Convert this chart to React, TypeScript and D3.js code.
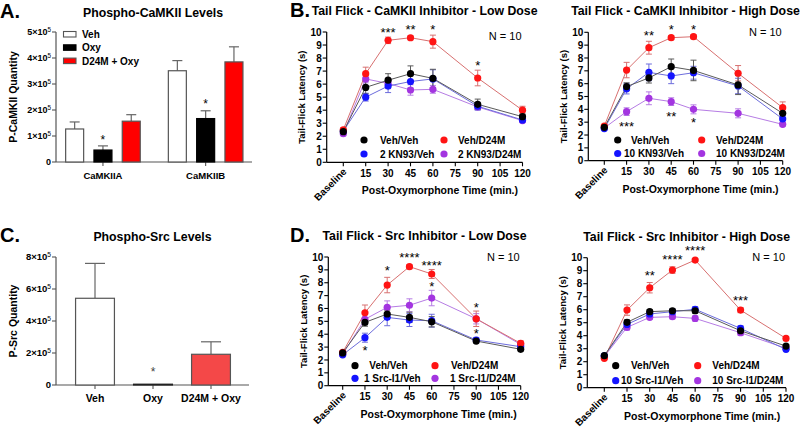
import React from "react";
import * as d3 from "d3";

const FONT = "'Liberation Sans', Arial, Helvetica, sans-serif";

// ---------------- Panel A data ----------------
const camkCategories = ["CaMKIIA", "CaMKIIB"];
const camkGroups = ["Veh", "Oxy", "D24M + Oxy"];
const camkVehMean = [127000, 351000];
const camkVehSem = [27000, 39000];
const camkOxyMean = [46000, 167000];
const camkOxySem = [16000, 30000];
const camkD24Mean = [157000, 385000];
const camkD24Sem = [25000, 58000];
const camkTicks = [0, 1, 2, 3, 4, 5];
const camkStars: [string, string, number][] = [
  ["CaMKIIA", "Oxy", 96000],
  ["CaMKIIB", "Oxy", 236000],
];

// ---------------- Panel C data ----------------
const srcCategories = ["Veh", "Oxy", "D24M + Oxy"];
const srcMean = [542000, 5000, 192000];
const srcSem = [218000, 0, 78000];
const srcTicks = [0, 2, 4, 6, 8];
const srcStars: [string, number][] = [["Oxy", 100000]];

// ---------------- Tail flick data ----------------
const times = [0, 15, 30, 45, 60, 90, 120];
const xTicks = [0, 15, 30, 45, 60, 75, 90, 105, 120];
const yTicks = [0, 1, 2, 3, 4, 5, 6, 7, 8, 9, 10];

// B - low dose
const bLowVehVeh = [2.35, 5.75, 6.3, 6.8, 6.44, 4.45, 3.5];
const bLowVehVehSem = [0.15, 0.5, 0.5, 0.6, 0.7, 0.4, 0.2];
const bLowVehD24M = [2.5, 6.8, 9.36, 9.56, 9.26, 6.47, 4.0];
const bLowVehD24MSem = [0.15, 0.5, 0.25, 0.15, 0.5, 0.6, 0.3];
const bLowInhVeh = [2.4, 5.0, 5.85, 6.2, 6.4, 4.3, 3.25];
const bLowInhVehSem = [0.1, 0.3, 0.5, 0.5, 0.7, 0.3, 0.15];
const bLowInhD24M = [2.2, 6.4, 6.05, 5.55, 5.6, 4.25, 3.2];
const bLowInhD24MSem = [0.1, 0.3, 0.4, 0.4, 0.3, 0.2, 0.15];
const bLowStars: [number, number, string][] = [
  [30, 10.21, "***"], [45, 10.41, "**"], [60, 10.41, "*"], [90, 7.68, "*"],
];

// B - high dose
const bHighVehVeh = [2.6, 5.77, 6.45, 7.32, 7.03, 5.9, 3.69];
const bHighVehVehSem = [0.1, 0.3, 0.4, 0.6, 0.8, 0.75, 0.35];
const bHighVehD24M = [2.7, 7.06, 8.8, 9.58, 9.66, 6.81, 4.13];
const bHighVehD24MSem = [0.1, 0.6, 0.5, 0.15, 0.15, 0.6, 0.45];
const bHighInhVeh = [2.5, 5.6, 6.88, 6.6, 6.85, 5.82, 3.25];
const bHighInhVehSem = [0.1, 0.4, 0.65, 0.6, 0.5, 0.6, 0.3];
const bHighInhD24M = [2.55, 3.82, 4.86, 4.6, 4.0, 3.69, 2.83];
const bHighInhD24MSem = [0.1, 0.3, 0.5, 0.3, 0.35, 0.35, 0.15];
const bHighStars: [number, number, string][] = [
  [30, 10.0, "**"], [45, 10.41, "*"], [60, 10.41, "*"],
  [15, 2.91, "***"], [45, 3.69, "**"], [60, 3.17, "*"],
];

// D - low dose
const dLowVehVeh = [2.55, 4.92, 5.57, 5.31, 4.97, 3.47, 2.83];
const dLowVehVehSem = [0.1, 0.3, 0.3, 0.4, 0.4, 0.15, 0.1];
const dLowVehD24M = [2.6, 5.67, 7.82, 9.25, 8.68, 5.2, 3.29];
const dLowVehD24MSem = [0.1, 0.6, 0.6, 0.15, 0.35, 0.6, 0.2];
const dLowInhVeh = [2.4, 3.73, 5.31, 5.1, 5.05, 3.55, 3.03];
const dLowInhVehSem = [0.1, 0.35, 0.65, 0.5, 0.5, 0.2, 0.1];
const dLowInhD24M = [2.45, 5.16, 6.09, 6.25, 6.81, 5.2, 3.2];
const dLowInhD24MSem = [0.1, 0.4, 0.5, 0.5, 0.6, 0.4, 0.15];
const dLowStars: [number, number, string][] = [
  [30, 9.15, "*"], [45, 10.16, "****"], [60, 9.56, "****"], [60, 7.9, "*"],
  [90, 6.34, "*"], [90, 4.27, "*"], [15, 2.98, "*"],
];

// D - high dose
const dHighVehVeh = [2.46, 5.03, 5.85, 5.92, 5.92, 4.38, 3.2];
const dHighVehVehSem = [0.1, 0.2, 0.15, 0.15, 0.2, 0.2, 0.1];
const dHighVehD24M = [2.26, 5.97, 7.69, 9.05, 9.82, 5.97, 3.79];
const dHighVehD24MSem = [0.1, 0.4, 0.4, 0.25, 0.1, 0.2, 0.1];
const dHighInhVeh = [2.45, 4.87, 5.67, 5.85, 6.03, 4.56, 2.95];
const dHighInhVehSem = [0.1, 0.2, 0.2, 0.2, 0.2, 0.2, 0.1];
const dHighInhD24M = [2.4, 4.64, 5.41, 5.46, 5.33, 4.23, 3.03];
const dHighInhD24MSem = [0.1, 0.2, 0.15, 0.15, 0.2, 0.2, 0.1];
const dHighStars: [number, number, string][] = [
  [30, 8.88, "**"], [45, 10.08, "****"], [60, 10.77, "****"], [90, 6.95, "***"],
];

const markerColors = ["#000000", "#ff1414", "#1414ff", "#a335e0"];
const lineColors = ["#5a5a5a", "#d87070", "#6c6cdc", "#b67ce4"];

type Series = { label: string; mean: number[]; sem: number[]; idx: number };

function makeSeries(labels: string[], means: number[][], sems: number[][]): Series[] {
  return labels.map((label, i) => ({ label, mean: means[i], sem: sems[i], idx: i }));
}

type LegendCfg = { rows: number[]; dotX: number[]; textX: number[][] };

type LineProps = {
  x0: number; xs: number; xe: number; yb: number; yt: number;
  title: string; series: Series[]; stars: [number, number, string][];
  legend: LegendCfg; nY: number;
};

function LinePanel(p: LineProps) {
  const x = d3.scaleLinear().domain([0, 120]).range([p.xs, p.xe]);
  const y = d3.scaleLinear().domain([0, 10]).range([p.yb, p.yt]);
  const line = d3
    .line<number>()
    .x((_, i) => x(times[i]))
    .y((d) => y(d));
  const drawOrder = [3, 2, 1, 0];
  const ordered = drawOrder.map((i) => p.series[i]);
  const midX = (p.x0 + p.xe) / 2;
  return (
    <g fontFamily={FONT}>
      <text x={midX} y={p.yt - 17} textAnchor="middle" fontSize={12.3} fontWeight="bold">
        {p.title}
      </text>
      <text x={p.xe - 1} y={p.nY} textAnchor="end" fontSize={11}>
        N = 10
      </text>
      {/* axes */}
      <line x1={p.x0} x2={p.x0} y1={p.yt} y2={p.yb} stroke="#000" strokeWidth={1.2} />
      <line x1={p.x0} x2={p.xe} y1={p.yb} y2={p.yb} stroke="#000" strokeWidth={1.2} />
      {yTicks.map((t) => (
        <g key={"y" + t}>
          <line x1={p.x0 - 4} x2={p.x0} y1={y(t)} y2={y(t)} stroke="#000" strokeWidth={1.1} />
          <text x={p.x0 - 5} y={y(t) + 3.6} textAnchor="end" fontSize={10} fontWeight="bold">
            {t}
          </text>
        </g>
      ))}
      {xTicks.map((t) => (
        <g key={"x" + t}>
          <line x1={x(t)} x2={x(t)} y1={p.yb} y2={p.yb + 4} stroke="#000" strokeWidth={1.1} />
          {t > 0 && (
            <text x={x(t)} y={p.yb + 14.5} textAnchor="middle" fontSize={10} fontWeight="bold">
              {t}
            </text>
          )}
        </g>
      ))}
      <text
        transform={`translate(${x(0) + 4},${p.yb + 10}) rotate(-45)`}
        textAnchor="end"
        fontSize={10}
        fontWeight="bold"
      >
        Baseline
      </text>
      <text x={x(60) + 7} y={p.yb + 32} textAnchor="middle" fontSize={10.5} fontWeight="bold">
        Post-Oxymorphone Time (min.)
      </text>
      <text
        transform={`translate(${p.x0 - 21.5},${(p.yt + p.yb) / 2}) rotate(-90)`}
        textAnchor="middle"
        fontSize={9.5}
        fontWeight="bold"
      >
        Tail-Flick Latency (s)
      </text>
      {/* lines */}
      {ordered.map((s) => (
        <path key={"l" + s.idx} d={line(s.mean) || ""} fill="none" stroke={lineColors[s.idx]} strokeWidth={1} />
      ))}
      {/* error bars */}
      {ordered.map((s) => (
        <g key={"e" + s.idx} stroke={lineColors[s.idx]} strokeWidth={1}>
          {s.mean.map((m, i) => {
            const cx = x(times[i]);
            const y1 = y(m + s.sem[i]);
            const y2 = y(m - s.sem[i]);
            return (
              <g key={i}>
                <line x1={cx} x2={cx} y1={y1} y2={y2} />
                <line x1={cx - 3} x2={cx + 3} y1={y1} y2={y1} />
                <line x1={cx - 3} x2={cx + 3} y1={y2} y2={y2} />
              </g>
            );
          })}
        </g>
      ))}
      {/* markers */}
      {ordered.map((s) => (
        <g key={"m" + s.idx} fill={markerColors[s.idx]}>
          {s.mean.map((m, i) => (
            <circle key={i} cx={x(times[i])} cy={y(m)} r={3.6} />
          ))}
        </g>
      ))}
      {/* stars */}
      {p.stars.map(([t, v, s], i) => (
        <text key={"s" + i} x={x(t)} y={y(v) + 7.4} textAnchor="middle" fontSize={13}>
          {s}
        </text>
      ))}
      {/* legend */}
      {p.series.map((s, i) => {
        const row = i === 0 || i === 1 ? 0 : 1;
        const col = i === 0 || i === 2 ? 0 : 1;
        const ly = p.legend.rows[row];
        return (
          <g key={"lg" + i}>
            <circle cx={p.legend.dotX[col]} cy={ly} r={3.6} fill={markerColors[s.idx]} />
            <text x={p.legend.textX[row][col]} y={ly + 3.6} fontSize={10} fontWeight="bold">
              {s.label}
            </text>
          </g>
        );
      })}
    </g>
  );
}

function SciLabel({ x, y, v, fs }: { x: number; y: number; v: number; fs: number }) {
  if (v === 0)
    return (
      <text x={x} y={y} textAnchor="end" fontSize={fs} fontWeight="bold">
        0
      </text>
    );
  return (
    <text x={x} y={y} textAnchor="end" fontSize={fs} fontWeight="bold">
      <tspan>{v}×10</tspan>
      <tspan dy={-fs * 0.4} fontSize={fs * 0.7} fontWeight="normal">5</tspan>
    </text>
  );
}

function PanelA() {
  const y = d3.scaleLinear().domain([0, 500000]).range([162, 32]);
  const outer = d3.scaleBand<string>().domain(camkCategories).range([51.6, 257]);
  const inner = d3.scaleBand<string>().domain(camkGroups).range([-37.3, 37.3]).paddingInner(0.364);
  const means = [camkVehMean, camkOxyMean, camkD24Mean];
  const sems = [camkVehSem, camkOxySem, camkD24Sem];
  const fills = ["#ffffff", "#000000", "#ff0000"];
  const strokes = ["#555555", "#000000", "#555555"];
  const center = (c: string) => (outer(c) || 0) + outer.bandwidth() / 2;
  return (
    <g fontFamily={FONT}>
      <text x={0} y={17.5} fontSize={20} fontWeight="bold">A.</text>
      <text x={153} y={16.5} textAnchor="middle" fontSize={12.3} fontWeight="bold">
        Phospho-CaMKII Levels
      </text>
      <text transform={`translate(17,97) rotate(-90)`} textAnchor="middle" fontSize={10.5} fontWeight="bold">
        P-CaMKII Quantity
      </text>
      <line x1={56} x2={56} y1={32} y2={162} stroke="#555" strokeWidth={1.2} />
      <line x1={56} x2={252} y1={162} y2={162} stroke="#555" strokeWidth={1.2} />
      {camkTicks.map((t) => (
        <g key={t}>
          <line x1={52} x2={56} y1={y(t * 1e5)} y2={y(t * 1e5)} stroke="#555" strokeWidth={1.1} />
          <SciLabel x={51} y={y(t * 1e5) + 3.2} v={t} fs={9} />
        </g>
      ))}
      {camkCategories.map((c, ci) => (
        <g key={c}>
          <line x1={center(c)} x2={center(c)} y1={162} y2={166} stroke="#555" strokeWidth={1.1} />
          <text x={center(c)} y={178.5} textAnchor="middle" fontSize={9.5} fontWeight="bold">
            {c}
          </text>
          {camkGroups.map((g, gi) => {
            const bx = center(c) + (inner(g) || 0);
            const m = means[gi][ci];
            const top = y(m + sems[gi][ci]);
            const cx = bx + inner.bandwidth() / 2;
            return (
              <g key={g}>
                <line x1={cx} x2={cx} y1={y(m)} y2={top} stroke="#666" strokeWidth={1.2} />
                <line x1={cx - 5} x2={cx + 5} y1={top} y2={top} stroke="#666" strokeWidth={1.2} />
                <rect
                  x={bx}
                  y={y(m)}
                  width={inner.bandwidth()}
                  height={162 - y(m)}
                  fill={fills[gi]}
                  stroke={strokes[gi]}
                  strokeWidth={1.2}
                />
              </g>
            );
          })}
        </g>
      ))}
      {camkStars.map(([c, g, v], i) => (
        <text
          key={i}
          x={center(c) + (inner(g) || 0) + inner.bandwidth() / 2}
          y={y(v) + 7}
          textAnchor="middle"
          fontSize={12}
        >
          *
        </text>
      ))}
      {/* legend */}
      {camkGroups.map((g, gi) => (
        <g key={g}>
          <rect x={63.5} y={31.5 + gi * 13.3} width={12.5} height={5.5} fill={fills[gi]} stroke={strokes[gi]} strokeWidth={1.1} />
          <text x={82} y={38 + gi * 13.3} fontSize={10} fontWeight="bold">
            {g}
          </text>
        </g>
      ))}
    </g>
  );
}

function PanelC() {
  const y = d3.scaleLinear().domain([0, 800000]).range([385, 257]);
  const x = d3.scaleBand<string>().domain(srcCategories).range([66, 240]).paddingInner(0.33).paddingOuter(0.165);
  const fills = ["#ffffff", "#000000", "#f44848"];
  const strokes = ["#555555", "#222222", "#555555"];
  const cx = (c: string) => (x(c) || 0) + x.bandwidth() / 2;
  return (
    <g fontFamily={FONT}>
      <text x={0} y={241.5} fontSize={20} fontWeight="bold">C.</text>
      <text x={152.5} y={240.5} textAnchor="middle" fontSize={12.3} fontWeight="bold">
        Phospho-Src Levels
      </text>
      <text transform={`translate(17,321) rotate(-90)`} textAnchor="middle" fontSize={10.5} fontWeight="bold">
        P-Src Quantity
      </text>
      <line x1={56} x2={56} y1={257} y2={385} stroke="#555" strokeWidth={1.2} />
      <line x1={56} x2={249} y1={385} y2={385} stroke="#555" strokeWidth={1.2} />
      {srcTicks.map((t) => (
        <g key={t}>
          <line x1={52} x2={56} y1={y(t * 1e5)} y2={y(t * 1e5)} stroke="#555" strokeWidth={1.1} />
          <SciLabel x={51} y={y(t * 1e5) + 3.3} v={t} fs={9.5} />
        </g>
      ))}
      {srcCategories.map((c, i) => {
        const m = srcMean[i];
        const top = y(m + srcSem[i]);
        return (
          <g key={c}>
            <line x1={cx(c)} x2={cx(c)} y1={385} y2={389} stroke="#555" strokeWidth={1.1} />
            <text x={cx(c)} y={402} textAnchor="middle" fontSize={10.5} fontWeight="bold">
              {c}
            </text>
            {srcSem[i] > 0 && (
              <g stroke="#666" strokeWidth={1.2}>
                <line x1={cx(c)} x2={cx(c)} y1={y(m)} y2={top} />
                <line x1={cx(c) - 10} x2={cx(c) + 10} y1={top} y2={top} />
              </g>
            )}
            <rect x={x(c)} y={y(m)} width={x.bandwidth()} height={385 - y(m)} fill={fills[i]} stroke={strokes[i]} strokeWidth={1.2} />
          </g>
        );
      })}
      {srcStars.map(([c, v], i) => (
        <text key={i} x={cx(c)} y={y(v) + 7} textAnchor="middle" fontSize={12} fill="#444">
          *
        </text>
      ))}
    </g>
  );
}

export default function App() {
  const bLow = makeSeries(
    ["Veh/Veh", "Veh/D24M", "2 KN93/Veh", "2 KN93/D24M"],
    [bLowVehVeh, bLowVehD24M, bLowInhVeh, bLowInhD24M],
    [bLowVehVehSem, bLowVehD24MSem, bLowInhVehSem, bLowInhD24MSem]
  );
  const bHigh = makeSeries(
    ["Veh/Veh", "Veh/D24M", "10 KN93/Veh", "10 KN93/D24M"],
    [bHighVehVeh, bHighVehD24M, bHighInhVeh, bHighInhD24M],
    [bHighVehVehSem, bHighVehD24MSem, bHighInhVehSem, bHighInhD24MSem]
  );
  const dLow = makeSeries(
    ["Veh/Veh", "Veh/D24M", "1 Src-I1/Veh", "1 Src-I1/D24M"],
    [dLowVehVeh, dLowVehD24M, dLowInhVeh, dLowInhD24M],
    [dLowVehVehSem, dLowVehD24MSem, dLowInhVehSem, dLowInhD24MSem]
  );
  const dHigh = makeSeries(
    ["Veh/Veh", "Veh/D24M", "10 Src-I1/Veh", "10 Src-I1/D24M"],
    [dHighVehVeh, dHighVehD24M, dHighInhVeh, dHighInhD24M],
    [dHighVehVehSem, dHighVehD24MSem, dHighInhVehSem, dHighInhD24MSem]
  );
  return (
    <svg
      width={800}
      height={427}
      viewBox="0 0 800 427"
      style={{ position: "absolute", left: 0, top: 0, background: "#fff" }}
    >
      <rect width={800} height={427} fill="#fff" />
      <PanelA />
      <PanelC />
      <g fontFamily={FONT}>
        <text x={290} y={16.5} fontSize={20} fontWeight="bold">B.</text>
        <text x={290} y={241.5} fontSize={20} fontWeight="bold">D.</text>
      </g>
      <LinePanel
        x0={326.7} xs={343.3} xe={522.5} yb={162.3} yt={32}
        title="Tail Flick - CaMKII Inhibitor - Low Dose"
        series={bLow} stars={bLowStars} nY={39.5}
        legend={{ rows: [140, 154], dotX: [364, 444], textX: [[380, 458], [380, 458]] }}
      />
      <LinePanel
        x0={588.3} xs={604.3} xe={782.7} yb={160.7} yt={32.3}
        title="Tail Flick - CaMKII Inhibitor - High Dose"
        series={bHigh} stars={bHighStars} nY={35.5}
        legend={{ rows: [140, 153.5], dotX: [617.7, 701.7], textX: [[631, 716], [624, 716]] }}
      />
      <LinePanel
        x0={328.3} xs={342.7} xe={520.7} yb={385.7} yt={257}
        title="Tail Flick - Src Inhibitor - Low Dose"
        series={dLow} stars={dLowStars} nY={260.5}
        legend={{ rows: [365.7, 378.3], dotX: [355, 435], textX: [[369.3, 451], [364, 450]] }}
      />
      <LinePanel
        x0={587.3} xs={604.3} xe={786} yb={387.7} yt={257.7}
        title="Tail Flick - Src Inhibitor - High Dose"
        series={dHigh} stars={dHighStars} nY={260.5}
        legend={{ rows: [365.7, 380.7], dotX: [615.7, 697.7], textX: [[631, 712.3], [621, 712.3]] }}
      />
    </svg>
  );
}
